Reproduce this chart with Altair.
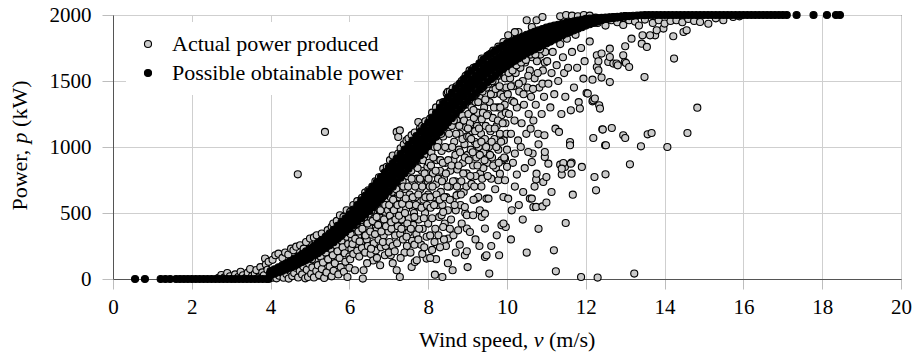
import altair as alt
import pandas as pd

FONT = "'Liberation Serif', 'Times New Roman', 'DejaVu Serif', serif"
SER_A = "Actual power produced"
SER_B = "Possible obtainable power"

# ---------------- Possible obtainable power (black) ----------------
obt_zero_v = [0.56, 0.81, 1.21, 1.33, 1.45, 1.6, 1.7, 1.8, 1.9, 2.0, 2.1, 2.2, 2.3, 2.4, 2.5,
              2.6, 2.7, 2.8, 2.9, 3.0, 3.1, 3.2, 3.3, 3.4, 3.5, 3.6, 3.7, 3.8, 3.9, 3.95]
obt_zero_p = [0, 0, 0, 0, 0, 0, 0, 0, 0, 0, 0, 0, 0, 0, 0,
              0, 0, 0, 0, 0, 0, 0, 0, 0, 0, 0, 0, 0, 0, 0]

obt_v = [4.0, 4.1, 4.2, 4.3, 4.4, 4.5, 4.6, 4.7, 4.8, 4.9,
         5.0, 5.1, 5.2, 5.3, 5.4, 5.5, 5.6, 5.7, 5.8, 5.9,
         6.0, 6.1, 6.2, 6.3, 6.4, 6.5, 6.6, 6.7, 6.8, 6.9,
         7.0, 7.1, 7.2, 7.3, 7.4, 7.5, 7.6, 7.7, 7.8, 7.9,
         8.0, 8.1, 8.2, 8.3, 8.4, 8.5, 8.6, 8.7, 8.8, 8.9,
         9.0, 9.1, 9.2, 9.3, 9.4, 9.5, 9.6, 9.7, 9.8, 9.9,
         10.0, 10.1, 10.2, 10.3, 10.4, 10.5, 10.6, 10.7, 10.8, 10.9,
         11.0, 11.1, 11.2, 11.3, 11.4, 11.5, 11.6, 11.7, 11.8, 11.9,
         12.0, 12.1, 12.2, 12.3, 12.4, 12.5, 12.6, 12.7, 12.8, 12.9, 13.0]
obt_top = [60, 74, 89, 104, 119, 135, 153, 172, 191, 210,
           230, 252, 274, 297, 321, 345, 373, 402, 431, 460,
           490, 525, 560, 595, 630, 665, 701, 737, 773, 809,
           845, 879, 913, 947, 981, 1015, 1049, 1083, 1117, 1151,
           1185, 1223, 1261, 1299, 1337, 1375, 1410, 1445, 1480, 1515,
           1550, 1578, 1606, 1634, 1662, 1690, 1709, 1728, 1747, 1766,
           1785, 1798, 1811, 1824, 1837, 1850, 1861, 1872, 1883, 1894,
           1905, 1912, 1919, 1926, 1933, 1940, 1946, 1952, 1958, 1964,
           1970, 1972, 1974, 1976, 1978, 1980, 1982, 1984, 1986, 1988, 1990]
obt_upper = [50, 63, 76, 90, 104, 118, 135, 153, 170, 188,
             207, 227, 248, 270, 292, 315, 342, 369, 397, 425,
             453, 486, 518, 550, 583, 615, 649, 683, 717, 751,
             785, 819, 853, 887, 921, 955, 989, 1023, 1057, 1091,
             1125, 1162, 1200, 1237, 1274, 1312, 1346, 1380, 1415, 1449,
             1483, 1511, 1539, 1567, 1595, 1623, 1644, 1665, 1686, 1707,
             1728, 1743, 1758, 1773, 1788, 1803, 1816, 1828, 1840, 1853,
             1865, 1875, 1884, 1894, 1904, 1913, 1921, 1929, 1937, 1945,
             1953, 1958, 1963, 1967, 1972, 1977, 1979, 1982, 1985, 1987, 1990]
obt_mid = [45, 57, 70, 83, 96, 110, 126, 143, 160, 177,
           195, 215, 235, 256, 278, 300, 326, 353, 380, 407,
           435, 466, 497, 528, 559, 590, 623, 656, 689, 722,
           755, 789, 823, 857, 891, 925, 959, 993, 1027, 1061,
           1095, 1132, 1169, 1206, 1243, 1280, 1314, 1348, 1382, 1416,
           1450, 1478, 1506, 1534, 1562, 1590, 1612, 1634, 1656, 1678,
           1700, 1716, 1732, 1748, 1764, 1780, 1793, 1806, 1819, 1832,
           1845, 1856, 1867, 1878, 1889, 1900, 1909, 1918, 1927, 1936,
           1945, 1951, 1957, 1963, 1969, 1975, 1978, 1981, 1984, 1987, 1990]
obt_lower = [40, 51, 64, 76, 88, 102, 117, 133, 150, 166,
             183, 203, 222, 242, 264, 285, 310, 337, 363, 389,
             417, 446, 476, 506, 535, 565, 597, 629, 661, 693,
             725, 759, 793, 827, 861, 895, 929, 963, 997, 1031,
             1065, 1102, 1138, 1175, 1212, 1248, 1282, 1316, 1349, 1383,
             1417, 1445, 1473, 1501, 1529, 1557, 1580, 1603, 1626, 1649,
             1672, 1689, 1706, 1723, 1740, 1757, 1770, 1784, 1798, 1811,
             1825, 1837, 1850, 1862, 1874, 1887, 1897, 1907, 1917, 1927,
             1937, 1944, 1951, 1959, 1966, 1973, 1977, 1980, 1983, 1987, 1990]
obt_bottom = [30, 40, 51, 62, 73, 85, 99, 114, 129, 144,
              160, 178, 196, 215, 235, 255, 279, 304, 329, 354,
              380, 407, 434, 461, 488, 515, 545, 575, 605, 635,
              665, 699, 733, 767, 801, 835, 869, 903, 937, 971,
              1005, 1041, 1077, 1113, 1149, 1185, 1218, 1251, 1284, 1317,
              1350, 1378, 1406, 1434, 1462, 1490, 1515, 1540, 1565, 1590,
              1615, 1634, 1653, 1672, 1691, 1710, 1725, 1740, 1755, 1770,
              1785, 1800, 1815, 1830, 1845, 1860, 1872, 1884, 1896, 1908,
              1920, 1930, 1940, 1950, 1960, 1970, 1974, 1978, 1982, 1986, 1990]

obt_flat_v = [13.1, 13.2, 13.3, 13.4, 13.5, 13.6, 13.7, 13.8, 13.9, 14.0,
              14.1, 14.2, 14.3, 14.4, 14.5, 14.6, 14.7, 14.8, 14.9, 15.0,
              15.1, 15.2, 15.3, 15.4, 15.5, 15.6, 15.7, 15.8, 15.9, 16.0,
              16.1, 16.2, 16.3, 16.4, 16.5, 16.6, 16.7, 16.8, 16.9, 17.0,
              17.1, 17.35, 17.78, 18.12, 18.35, 18.45]
obt_flat_p = [1992, 1994, 1996, 1998, 1999, 2000, 2000, 2000, 2000, 2000,
              2000, 2000, 2000, 2000, 2000, 2000, 2000, 2000, 2000, 2000,
              2000, 2000, 2000, 2000, 2000, 2000, 2000, 2000, 2000, 2000,
              2000, 2000, 2000, 2000, 2000, 2000, 2000, 2000, 2000, 2000,
              2000, 2000, 2000, 2000, 2000, 2000]

# ---------------- Actual power produced (grey), [wind speed, power] ----------------
act_low = [[2.68, 8], [2.75, 30], [2.83, 12], [2.9, 45], [2.97, 20], [3.05, 5], [3.1, 35],
           [3.18, 15], [3.24, 55], [3.3, 28], [3.37, 8], [3.42, 48], [3.48, 75], [3.53, 22],
           [3.6, 40], [3.64, 68], [3.7, 12], [3.74, 90], [3.79, 50], [3.83, 28], [3.86, 155],
           [3.88, 110], [3.92, 70], [3.95, 130], [3.98, 40]]
act_4_5 = [[4.05, 145], [4.12, 180], [4.2, 192], [4.3, 160], [4.37, 200], [4.45, 185],
           [4.52, 230], [4.58, 217], [4.65, 245], [4.69, 793], [4.75, 255], [4.84, 230],
           [4.9, 280], [5.0, 306],
           [4.05, 10], [4.1, 35], [4.15, 5], [4.22, 25], [4.28, 50], [4.33, 10], [4.4, 38],
           [4.46, 3], [4.5, 60], [4.55, 22], [4.6, 45], [4.64, 85], [4.7, 12], [4.74, 60],
           [4.8, 35], [4.83, 95], [4.88, 5], [4.92, 70], [4.95, 15], [4.98, 115]]
act_5_6 = [[5.1, 315], [5.17, 331], [5.3, 344], [5.38, 1114], [5.45, 370], [5.55, 395],
           [5.59, 420], [5.68, 440], [5.76, 483], [5.85, 470], [5.93, 520], [6.02, 508],
           [5.03, 40], [5.06, 88], [5.1, 12], [5.12, 140], [5.16, 60], [5.2, 105], [5.23, 30],
           [5.27, 170], [5.3, 75], [5.33, 125], [5.36, 8], [5.4, 200], [5.42, 50], [5.46, 150],
           [5.5, 95], [5.52, 230], [5.55, 20], [5.58, 180], [5.6, 62], [5.63, 120], [5.66, 255],
           [5.7, 210], [5.72, 35], [5.75, 160], [5.78, 90], [5.8, 290], [5.83, 240], [5.86, 55],
           [5.88, 195], [5.9, 130], [5.93, 320], [5.95, 15], [5.97, 265], [6.0, 85], [6.0, 170],
           [5.05, 150], [5.15, 190], [5.25, 210], [5.35, 240], [5.45, 260], [5.55, 280],
           [5.65, 300], [5.75, 320], [5.85, 350], [5.95, 360]]
act_6_7 = [[6.1, 560], [6.2, 590], [6.32, 615], [6.4, 655], [6.48, 672], [6.58, 700],
           [6.66, 740], [6.75, 770], [6.86, 836], [6.95, 850],
           [6.02, 150], [6.05, 230], [6.07, 300], [6.1, 190], [6.12, 345], [6.14, 66], [6.16, 260],
           [6.18, 380], [6.2, 215], [6.22, 320], [6.25, 170], [6.27, 410], [6.3, 280], [6.32, 235],
           [6.34, 3], [6.36, 66], [6.37, 360], [6.4, 200], [6.42, 440], [6.44, 300], [6.47, 250],
           [6.5, 390], [6.52, 470], [6.54, 190], [6.57, 335], [6.6, 510], [6.62, 270], [6.64, 430],
           [6.67, 215], [6.7, 375], [6.72, 540], [6.74, 300], [6.77, 465], [6.78, 104], [6.8, 240],
           [6.82, 580], [6.85, 400], [6.87, 330], [6.9, 510], [6.92, 250], [6.94, 610], [6.97, 440],
           [6.99, 360], [6.6, 140], [6.45, 120], [6.9, 180],
           [6.03, 340], [6.08, 265], [6.11, 395], [6.15, 305], [6.19, 420], [6.23, 360], [6.26, 285],
           [6.29, 445], [6.33, 380], [6.38, 470], [6.41, 330], [6.46, 420], [6.49, 495], [6.53, 360],
           [6.56, 520], [6.59, 440], [6.63, 545], [6.65, 340], [6.69, 470], [6.71, 580], [6.73, 410],
           [6.76, 600], [6.79, 520], [6.81, 360], [6.84, 620], [6.88, 450], [6.91, 560], [6.93, 400],
           [6.96, 640], [6.98, 520], [6.55, 230], [6.7, 160], [6.85, 280]]
act_7_8 = [[7.03, 900], [7.1, 935], [7.2, 1114], [7.24, 1076], [7.24, 950], [7.28, 1126],
           [7.3, 990], [7.38, 1020], [7.45, 1050], [7.5, 1064], [7.58, 1090], [7.66, 1110],
           [7.75, 1189], [7.79, 1139], [7.85, 1160], [7.93, 1195], [8.05, 1215],
           [7.02, 280], [7.03, 480], [7.05, 620], [7.07, 380], [7.09, 540], [7.1, 250], [7.12, 440],
           [7.14, 660], [7.16, 330], [7.18, 580], [7.2, 490], [7.21, 270], [7.23, 400], [7.25, 700],
           [7.27, 620], [7.29, 340], [7.31, 520], [7.33, 450], [7.35, 740], [7.36, 300], [7.38, 600],
           [7.4, 400], [7.42, 680], [7.44, 530], [7.46, 250], [7.48, 780], [7.5, 350], [7.51, 460],
           [7.53, 640], [7.55, 560], [7.57, 820], [7.59, 290], [7.6, 720], [7.62, 410], [7.64, 500],
           [7.66, 860], [7.68, 620], [7.7, 340], [7.72, 760], [7.74, 550], [7.76, 450], [7.78, 900],
           [7.8, 680], [7.82, 260], [7.84, 820], [7.86, 380], [7.88, 600], [7.9, 940], [7.92, 500],
           [7.94, 720], [7.96, 320], [7.98, 850], [8.0, 420], [8.0, 640],
           [7.2, 66], [7.28, 15], [7.58, 91], [7.66, 129], [7.71, 142], [7.96, 155], [7.05, 180],
           [7.4, 200], [7.85, 190], [7.1, 120],
           [7.01, 560], [7.04, 700], [7.06, 430], [7.08, 660], [7.11, 600], [7.13, 520], [7.15, 740],
           [7.17, 450], [7.19, 680], [7.22, 560], [7.24, 780], [7.26, 480], [7.28, 640], [7.3, 820],
           [7.32, 380], [7.34, 570], [7.37, 700], [7.39, 830], [7.41, 500], [7.43, 610], [7.45, 880],
           [7.47, 420], [7.49, 700], [7.52, 560], [7.54, 900], [7.56, 380], [7.58, 760], [7.61, 620],
           [7.63, 940], [7.65, 470], [7.67, 700], [7.69, 560], [7.71, 980], [7.73, 840], [7.75, 640],
           [7.77, 380], [7.79, 760], [7.81, 1000], [7.83, 540], [7.85, 700], [7.87, 900], [7.89, 460],
           [7.91, 800], [7.93, 620], [7.95, 1020], [7.97, 560], [7.99, 740],
           [7.0, 200], [7.15, 210], [7.3, 160], [7.45, 320], [7.55, 200], [7.65, 260], [7.75, 300],
           [7.9, 240]]
act_8_9 = [[8.1, 1260], [8.2, 1300], [8.3, 1330], [8.38, 1340], [8.47, 1405], [8.5, 1417],
           [8.55, 1420], [8.62, 1445], [8.72, 1460], [8.81, 1467], [8.85, 1500], [8.95, 1540],
           [8.02, 880], [8.04, 700], [8.06, 540], [8.08, 960], [8.1, 460], [8.12, 800], [8.14, 620],
           [8.16, 1000], [8.18, 380], [8.2, 720], [8.22, 900], [8.24, 560], [8.26, 1040], [8.28, 470],
           [8.3, 820], [8.32, 660], [8.34, 970], [8.36, 560], [8.38, 1080], [8.4, 760], [8.42, 420],
           [8.44, 880], [8.46, 620], [8.48, 1120], [8.5, 520], [8.52, 990], [8.54, 700], [8.56, 820],
           [8.58, 450], [8.6, 1160], [8.62, 600], [8.64, 900], [8.66, 1040], [8.68, 740], [8.7, 520],
           [8.72, 1200], [8.74, 830], [8.76, 640], [8.78, 980], [8.8, 1100], [8.82, 560], [8.84, 740],
           [8.86, 1240], [8.88, 880], [8.9, 660], [8.92, 1020], [8.94, 500], [8.96, 1150], [8.98, 800],
           [9.0, 940],
           [8.26, 331], [8.16, 280], [8.38, 394], [8.51, 306], [8.64, 331], [8.76, 369], [8.98, 382],
           [8.34, 483], [8.38, 508], [8.93, 545], [8.98, 483], [8.72, 633], [8.17, 33], [8.36, 15],
           [8.62, 66], [8.93, 180], [8.98, 210], [8.1, 220], [8.45, 250], [8.8, 260], [8.05, 330],
           [8.01, 760], [8.03, 1040], [8.05, 620], [8.07, 860], [8.09, 1060], [8.11, 700], [8.13, 920],
           [8.15, 560], [8.17, 1100], [8.19, 820], [8.21, 640], [8.23, 1000], [8.25, 760], [8.27, 1140],
           [8.29, 600], [8.31, 900], [8.33, 1100], [8.35, 740], [8.37, 880], [8.39, 1180], [8.41, 620],
           [8.43, 1000], [8.45, 800], [8.47, 1220], [8.49, 700], [8.51, 900], [8.53, 1100], [8.55, 600],
           [8.57, 1240], [8.59, 860], [8.61, 1000], [8.63, 740], [8.65, 1200], [8.67, 560], [8.69, 940],
           [8.71, 1100], [8.73, 700], [8.75, 1280], [8.77, 860], [8.79, 1160], [8.81, 960], [8.83, 640],
           [8.85, 1300], [8.87, 1060], [8.89, 800], [8.91, 1200], [8.93, 920], [8.95, 1320], [8.97, 700],
           [8.99, 1080], [8.2, 150], [8.5, 120], [8.7, 200],
           [8.05, 160], [8.3, 240], [8.55, 380], [8.85, 420], [8.4, 300]]
act_9_10 = [[9.05, 1580], [9.15, 1600], [9.31, 1619], [9.36, 1670], [9.44, 1657], [9.55, 1700],
            [9.65, 1730], [9.78, 1760], [9.91, 1795], [10.03, 1846],
            [9.02, 1250], [9.04, 1080], [9.06, 1180], [9.08, 980], [9.1, 1300], [9.12, 1120],
            [9.14, 860], [9.16, 1220], [9.18, 1040], [9.2, 1340], [9.22, 920], [9.24, 1160],
            [9.26, 1260], [9.28, 1000], [9.3, 1380], [9.32, 800], [9.34, 1100], [9.36, 1210],
            [9.38, 1420], [9.4, 960], [9.42, 1300], [9.44, 1060], [9.46, 1160], [9.48, 1450],
            [9.5, 880], [9.52, 1250], [9.54, 1000], [9.56, 1340], [9.58, 1120], [9.6, 1480],
            [9.62, 920], [9.64, 1220], [9.66, 1400], [9.68, 1060], [9.7, 1500], [9.72, 840],
            [9.74, 1160], [9.76, 1300], [9.78, 980], [9.8, 1540], [9.82, 1100], [9.84, 1400],
            [9.86, 1240], [9.88, 900], [9.9, 1560], [9.92, 1050], [9.94, 1320], [9.96, 1180],
            [9.98, 1450], [10.0, 980],
            [9.23, 609], [9.27, 621], [9.48, 609], [9.53, 609], [9.14, 483], [9.31, 520], [9.36, 470],
            [9.44, 495], [9.06, 356], [9.44, 382], [9.74, 331], [9.86, 407], [9.97, 394], [9.91, 420],
            [9.91, 621], [9.78, 748], [9.82, 798], [9.86, 899], [9.95, 912], [9.95, 748], [9.44, 167],
            [9.48, 180], [9.55, 41], [9.1, 720], [9.2, 780], [9.35, 700], [9.6, 760], [9.7, 680],
            [9.4, 840], [9.15, 600],
            [9.01, 1140], [9.03, 900], [9.05, 1360], [9.07, 780], [9.09, 1060], [9.11, 1380],
            [9.13, 960], [9.15, 1280], [9.17, 700], [9.19, 1120], [9.21, 1400], [9.23, 1020],
            [9.25, 860], [9.27, 1340], [9.29, 1140], [9.31, 940], [9.33, 1440], [9.35, 1040],
            [9.37, 760], [9.39, 1260], [9.41, 1460], [9.43, 900], [9.45, 1360], [9.47, 1000],
            [9.49, 1240], [9.51, 780], [9.53, 1480], [9.55, 1140], [9.57, 940], [9.59, 1400],
            [9.61, 1040], [9.63, 1500], [9.65, 860], [9.67, 1300], [9.69, 1140], [9.71, 1440],
            [9.73, 1000], [9.75, 1540], [9.77, 1200], [9.79, 880], [9.81, 1460], [9.83, 1300],
            [9.85, 1040], [9.87, 1560], [9.89, 1180], [9.91, 1380], [9.93, 920], [9.95, 1520],
            [9.97, 1260], [9.99, 1100], [9.0, 90], [9.2, 300], [9.6, 250], [9.8, 180], [9.3, 250]]
act_10_11 = [[10.29, 1871], [10.33, 1808], [10.5, 1960], [10.63, 1909], [10.75, 1960],
             [10.9, 1985], [10.2, 1870],
             [10.02, 1400], [10.05, 1250], [10.08, 1520], [10.1, 1100], [10.13, 1350], [10.16, 1460],
             [10.19, 1200], [10.22, 1560], [10.25, 1300], [10.28, 1050], [10.31, 1420], [10.34, 1600],
             [10.37, 1180], [10.4, 1500], [10.43, 1320], [10.46, 1640], [10.49, 1100], [10.52, 1450],
             [10.55, 1250], [10.58, 1580], [10.61, 1380], [10.64, 1680], [10.67, 1200], [10.7, 1520],
             [10.73, 1320], [10.76, 1650], [10.79, 1100], [10.82, 1450], [10.85, 1700], [10.88, 1250],
             [10.91, 1580], [10.94, 1380], [10.97, 1720], [10.6, 1139], [10.65, 950], [10.8, 1020],
             [10.95, 1089],
             [10.03, 609], [10.25, 791], [10.41, 659], [10.58, 609], [10.67, 545], [10.54, 962],
             [10.63, 886], [10.63, 609], [10.74, 546], [10.92, 735], [10.74, 753], [11.0, 773],
             [10.75, 798], [10.96, 924], [10.96, 962], [10.15, 880], [10.35, 1000], [10.45, 840],
             [10.2, 700], [10.12, 520], [10.3, 560],
             [10.04, 1560], [10.1, 1460], [10.14, 1580], [10.18, 1340], [10.24, 1620], [10.3, 1480],
             [10.36, 1640], [10.42, 1400], [10.48, 1660], [10.54, 1540], [10.6, 1700], [10.66, 1440],
             [10.72, 1700], [10.78, 1560], [10.84, 1740], [10.9, 1480], [10.96, 1640],
             [10.1, 300], [10.4, 450], [10.5, 200], [10.8, 380], [10.0, 850], [10.2, 950], [10.7, 700],
             [10.9, 550]]
act_11_13 = [[11.02, 1650], [11.05, 1480], [11.08, 1800], [11.1, 1300], [11.13, 1560],
             [11.16, 1720], [11.2, 1400], [11.23, 1139], [11.26, 1620], [11.3, 1500], [11.32, 1114],
             [11.35, 1780], [11.38, 1250], [11.42, 1680], [11.45, 1560], [11.48, 1380], [11.52, 1820],
             [11.55, 1600], [11.6, 1038], [11.62, 1278], [11.65, 1720], [11.7, 1450], [11.74, 1850],
             [11.78, 1600], [11.82, 1340], [11.85, 1291], [11.88, 1750], [11.94, 1518], [11.97, 1650],
             [12.02, 1409], [12.05, 1405], [12.1, 1800], [12.17, 1510], [12.17, 1346], [12.19, 1354],
             [12.23, 1367], [12.28, 1606], [12.28, 1695], [12.32, 1581], [12.32, 1649], [12.34, 1316],
             [12.36, 1291], [12.4, 1526], [12.4, 1708], [12.42, 1134], [12.49, 1013], [12.19, 1068],
             [12.57, 1644], [12.61, 1492], [12.61, 1682], [12.61, 1745], [12.66, 1144], [12.7, 1632],
             [12.78, 1632], [12.81, 1619],
             [11.35, 1990], [11.5, 2000], [11.65, 1995], [11.8, 1990], [11.95, 2000], [12.1, 1995],
             [12.25, 1980],
             [11.49, 424], [11.19, 217], [11.24, 58], [11.88, 15], [11.13, 659], [11.0, 579],
             [11.05, 874], [11.35, 866], [11.47, 849], [11.39, 791], [11.64, 798], [11.64, 882],
             [11.67, 639], [11.9, 849], [11.43, 879], [11.62, 874], [11.39, 836], [11.6, 1013]]
act_high = [[12.22, 773], [12.26, 672], [12.5, 793], [12.3, 11], [13.23, 41], [13.12, 869],
            [12.43, 1132], [12.51, 1013], [12.95, 1089], [13.0, 1068], [13.4, 1005], [13.57, 1096],
            [13.67, 1106], [14.07, 1000], [14.58, 1106], [14.83, 1298], [14.24, 1670], [13.49, 1530],
            [12.99, 1644], [13.02, 1636], [13.1, 1606], [12.95, 1695], [13.0, 1763], [13.16, 1821],
            [13.42, 1783], [13.55, 1758], [13.44, 1846], [13.76, 1846], [13.97, 1897], [14.22, 1839],
            [14.48, 1871], [14.56, 1884], [13.63, 1846], [13.8, 1884],
            [12.3, 1940], [12.5, 1920], [12.65, 1960], [12.8, 1945], [12.95, 1925], [13.1, 1960],
            [13.25, 1950], [13.35, 1920], [13.5, 1965], [13.7, 1940], [13.85, 1960], [14.0, 1935],
            [14.15, 1955], [14.3, 1960], [14.45, 1945], [14.6, 1970], [14.75, 1955], [14.9, 1947],
            [15.11, 1934], [15.3, 1975], [15.49, 1960], [15.74, 1985], [15.9, 1990]]

x_ticks = [0, 2, 4, 6, 8, 10, 12, 14, 16, 18, 20]
y_ticks = [0, 500, 1000, 1500, 2000]

# ---------------- tables ----------------
act_pts = act_low + act_4_5 + act_5_6 + act_6_7 + act_7_8 + act_8_9 + act_9_10 + act_10_11 + act_11_13 + act_high
act_df = pd.DataFrame({"v": [q[0] for q in act_pts], "p": [q[1] for q in act_pts], "series": SER_A})

obt_df = pd.concat([
    pd.DataFrame({"v": obt_zero_v, "p": obt_zero_p}),
    pd.DataFrame({"v": obt_v, "p": obt_bottom}),
    pd.DataFrame({"v": obt_v, "p": obt_lower}),
    pd.DataFrame({"v": obt_v, "p": obt_mid}),
    pd.DataFrame({"v": obt_v, "p": obt_upper}),
    pd.DataFrame({"v": obt_v, "p": obt_top}),
    pd.DataFrame({"v": obt_flat_v, "p": obt_flat_p}),
], ignore_index=True)
obt_df["series"] = SER_B

xs = alt.Scale(domain=[0, 20], nice=False, zero=False)
ys = alt.Scale(domain=[0, 2000], nice=False)
fill_scale = alt.Scale(domain=[SER_A, SER_B], range=["#cbcbcb", "#000000"])

x_axis = alt.Axis(values=x_ticks, title=None, labelFlush=False, labelOverlap=False,
                  ticks=True, tickSize=10, labelPadding=7, grid=True, format="d",
                  labelFont=FONT, labelFontSize=21, labelColor="black")
y_axis = alt.Axis(values=y_ticks, title=None, ticks=True, tickSize=11, labelPadding=11,
                  grid=True, format="d",
                  labelFont=FONT, labelFontSize=21, labelColor="black")

legend = alt.Legend(title=None, orient="none", legendX=13, legendY=7, direction="vertical",
                    fillColor="white", padding=11, labelFont=FONT, labelFontSize=22,
                    labelColor="black", labelLimit=0, symbolType="circle", symbolSize=50,
                    symbolStrokeColor="black", symbolStrokeWidth=1.1, rowPadding=7,
                    labelOffset=13)

act_layer = alt.Chart(act_df).mark_circle(size=50, stroke="black", strokeWidth=1.1, opacity=1).encode(
    x=alt.X("v:Q", scale=xs, axis=x_axis),
    y=alt.Y("p:Q", scale=ys, axis=y_axis),
    fill=alt.Fill("series:N", scale=fill_scale, legend=legend),
)
obt_layer = alt.Chart(obt_df).mark_circle(size=50, stroke="black", strokeWidth=1.1, opacity=1).encode(
    x=alt.X("v:Q", scale=xs),
    y=alt.Y("p:Q", scale=ys),
    fill=alt.Fill("series:N", scale=fill_scale, legend=legend),
)

one = pd.DataFrame({"k": [0]})


def txt(text, x, y, style="normal", align="left", angle=0):
    return alt.Chart(one).mark_text(
        text=text, font=FONT, fontSize=22, fontStyle=style, align=align,
        baseline="alphabetic", angle=angle, color="black"
    ).encode(x=alt.value(x), y=alt.value(y))


x_title = [
    txt("Wind speed,", 415.2, 332, align="right"),
    txt("v", 420.7, 332, style="italic"),
    txt("(m/s)", 436.0, 332),
]
y_title = [
    txt("Power,", -86, 195.6, angle=270),
    txt("p", -86, 128.4, style="italic", angle=270),
    txt("(kW)", -86, 111.9, angle=270),
]

chart = alt.layer(act_layer, obt_layer, *x_title, *y_title).properties(
    width=788, height=264,
    padding={"left": 113, "top": 15, "right": 13, "bottom": 76},
    autosize=alt.AutoSizeParams(type="none"),
    background="white",
).configure_view(stroke="#222222", strokeWidth=1).configure_axis(
    gridColor="#cfcfcf", gridWidth=1, tickColor="#bdbdbd", tickWidth=1,
    domainColor="#555555", domainWidth=1,
)

chart.save("out.html", embed_options={"renderer": "svg", "actions": False})
